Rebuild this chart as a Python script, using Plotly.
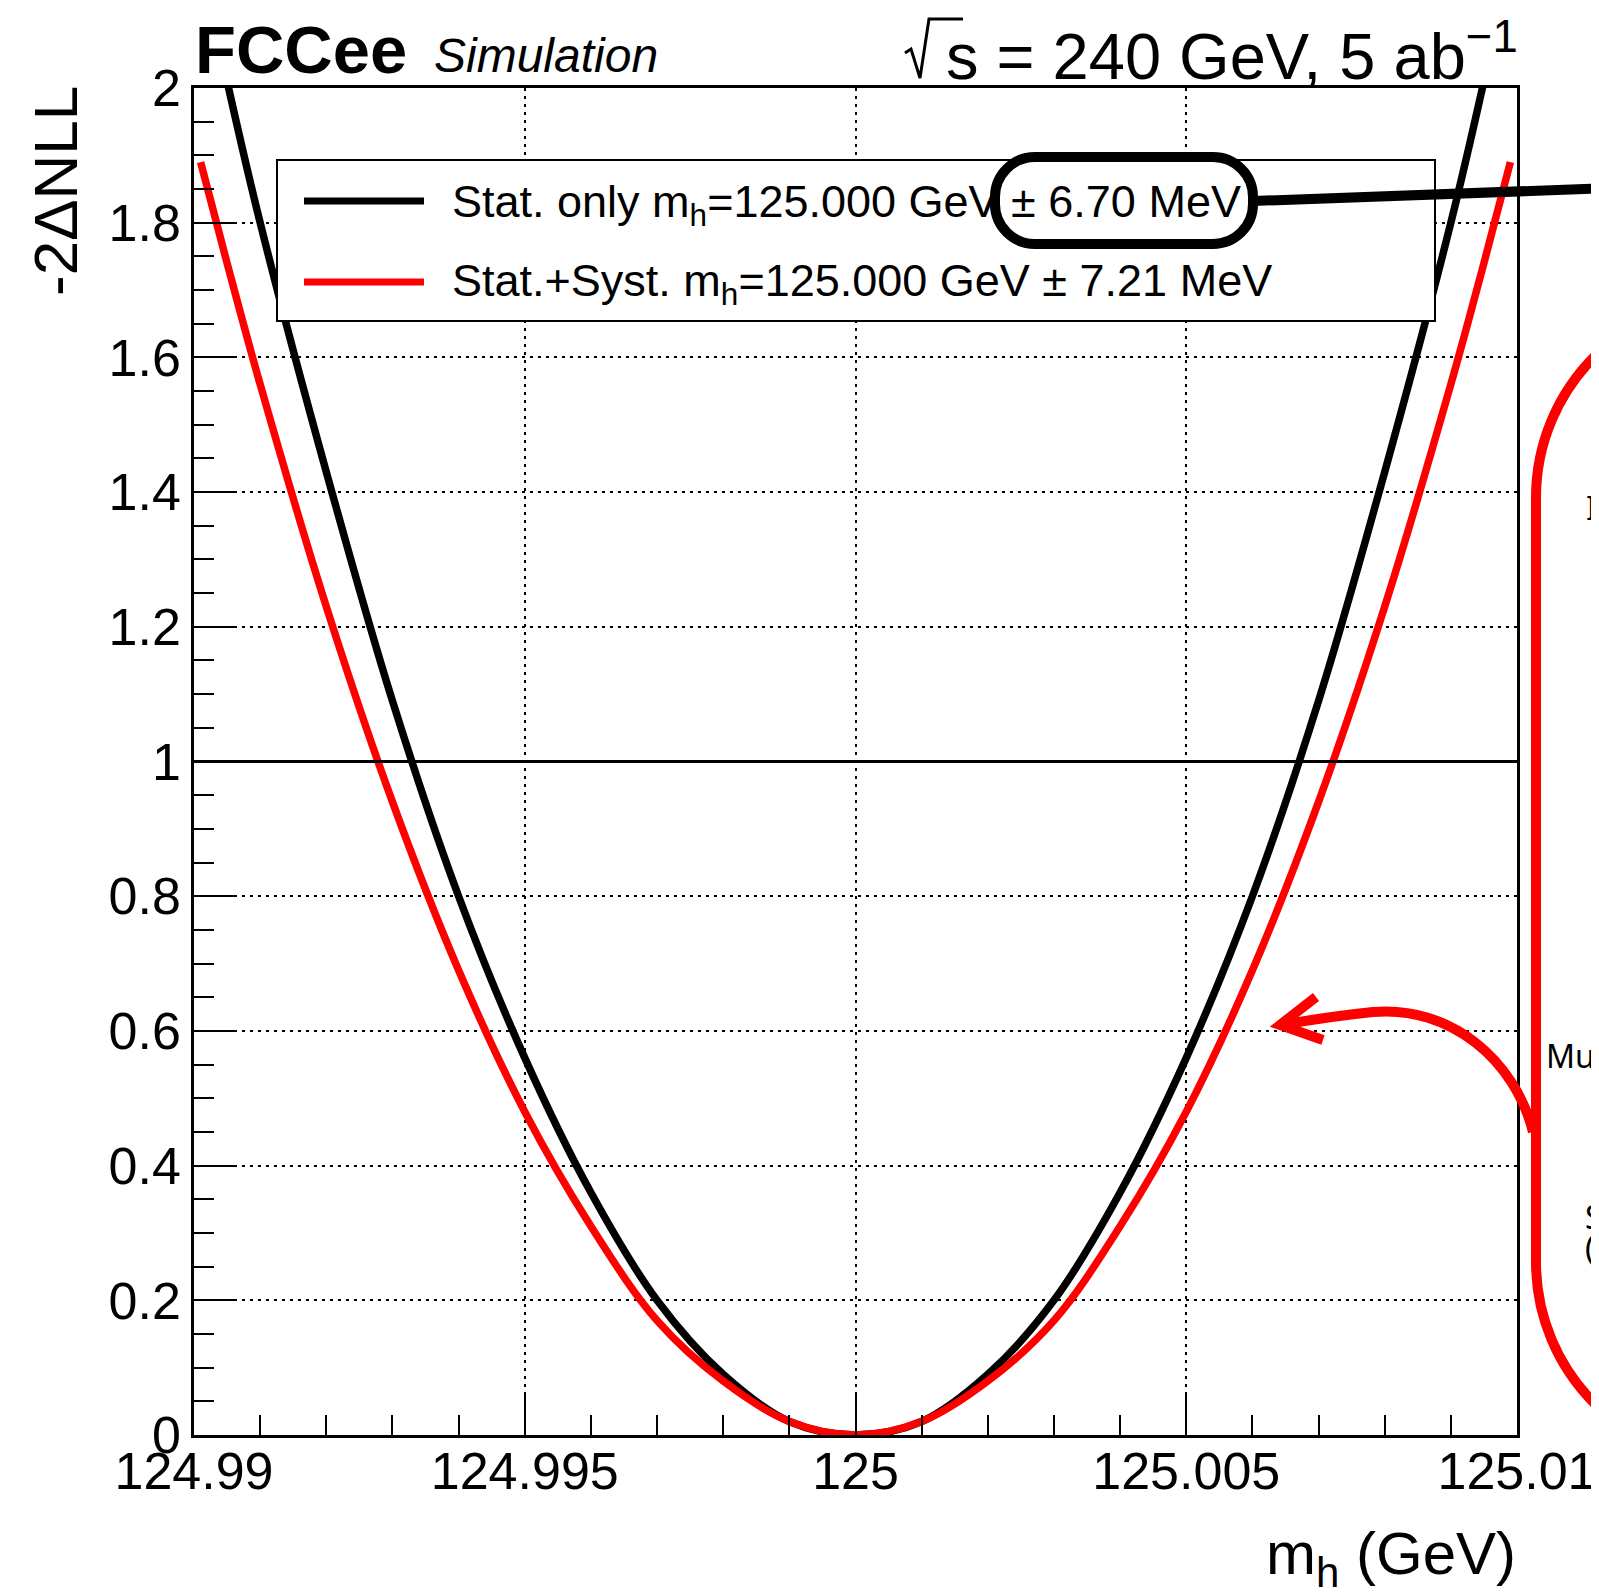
import plotly.graph_objects as go

# ---------------- data ----------------
stat_mh = [124.9905, 124.991, 124.992, 124.993, 124.994, 124.995, 124.996, 124.997, 124.998, 124.999,
           125.000,
           125.001, 125.002, 125.003, 125.004, 125.005, 125.006, 125.007, 125.008, 125.009, 125.0095]
stat_nll = [2.01, 1.80, 1.43, 1.09, 0.80, 0.56, 0.36, 0.20, 0.09, 0.02,
            0.00,
            0.02, 0.09, 0.20, 0.36, 0.56, 0.80, 1.09, 1.43, 1.80, 2.01]

syst_mh = [124.9901, 124.9905, 124.991, 124.992, 124.993, 124.994, 124.995, 124.996, 124.997, 124.998, 124.999,
           125.000,
           125.001, 125.002, 125.003, 125.004, 125.005, 125.006, 125.007, 125.008, 125.009, 125.0095, 125.0099]
syst_nll = [1.89, 1.74, 1.56, 1.23, 0.94, 0.69, 0.48, 0.31, 0.17, 0.08, 0.02,
            0.00,
            0.02, 0.08, 0.17, 0.31, 0.48, 0.69, 0.94, 1.23, 1.56, 1.74, 1.89]

ref_level = 1.0

x_range = [124.99, 125.01]
y_range = [0, 2]
x_tick_vals = [124.99, 124.995, 125.0, 125.005, 125.01]
x_tick_text = ["124.99", "124.995", "125", "125.005", "125.01"]
y_tick_vals = [0, 0.2, 0.4, 0.6, 0.8, 1.0, 1.2, 1.4, 1.6, 1.8, 2.0]
y_tick_text = ["0", "0.2", "0.4", "0.6", "0.8", "1", "1.2", "1.4", "1.6", "1.8", "2"]

legend_labels = ["Stat. only m<sub>h</sub>=125.000 GeV \u00b1 6.70 MeV",
                 "Stat.+Syst. m<sub>h</sub>=125.000 GeV \u00b1 7.21 MeV"]
series_colors = ["#000000", "#ff0000"]

# ---------------- layout geometry (page pixel coordinates) ----------------
PAGE_W, PAGE_H = 1599, 1596
OFF = 8                      # default body margin of the html page
PLOT_L, PLOT_R, PLOT_T, PLOT_B = 194, 1517, 88, 1435
W, H = PAGE_W - 2 * OFF, PAGE_H - 2 * OFF
PW = PLOT_R - PLOT_L
PH = PLOT_B - PLOT_T
FONT = "Liberation Sans, Arial, Helvetica, sans-serif"


def px(x):
    return (x - PLOT_L) / PW


def py(y):
    return (PLOT_B - y) / PH


def path(cmds):
    out = []
    for c in cmds:
        op = c[0]
        pts = " ".join(f"{px(a):.5f},{py(b):.5f}" for a, b in c[1:])
        out.append(op + " " + pts if pts else op)
    return " ".join(out)


K = 0.5523


def rounded_rect(x0, y0, x1, y1, r):
    k = K * r
    return path([
        ("M", (x0 + r, y0)), ("L", (x1 - r, y0)),
        ("C", (x1 - r + k, y0), (x1, y0 + r - k), (x1, y0 + r)),
        ("L", (x1, y1 - r)),
        ("C", (x1, y1 - r + k), (x1 - r + k, y1), (x1 - r, y1)),
        ("L", (x0 + r, y1)),
        ("C", (x0 + r - k, y1), (x0, y1 - r + k), (x0, y1 - r)),
        ("L", (x0, y0 + r)),
        ("C", (x0, y0 + r - k), (x0 + r - k, y0), (x0 + r, y0)),
        ("Z",),
    ])


fig = go.Figure()
fig.add_trace(go.Scatter(x=stat_mh, y=stat_nll, mode="lines",
                         line=dict(color=series_colors[0], width=7.5, shape="spline"),
                         showlegend=False, hoverinfo="skip"))
fig.add_trace(go.Scatter(x=syst_mh, y=syst_nll, mode="lines",
                         line=dict(color=series_colors[1], width=7.5, shape="spline"),
                         showlegend=False, hoverinfo="skip"))

axis_common = dict(
    ticks="inside", ticklen=40, tickwidth=2, tickcolor="black",
    showline=True, linecolor="black", linewidth=2.5, mirror=True,
    showgrid=True, gridcolor="black", gridwidth=1.5, griddash="3px,5px",
    zeroline=False, tickfont=dict(family=FONT, size=52, color="black"),
    ticklabeloverflow="allow", automargin=False,
)
fig.update_xaxes(range=x_range, tickmode="array", tickvals=x_tick_vals, ticktext=x_tick_text,
                 ticklabelstandoff=-11,
                 minor=dict(tick0=124.99, dtick=0.001, ticks="inside", ticklen=20, tickwidth=2,
                            tickcolor="black", showgrid=False),
                 **axis_common)
fig.update_yaxes(range=y_range, tickmode="array", tickvals=y_tick_vals, ticktext=y_tick_text,
                 minor=dict(tick0=0, dtick=0.05, ticks="inside", ticklen=20, tickwidth=2,
                            tickcolor="black", showgrid=False),
                 **axis_common)

shapes = []
# reference line at -2dNLL = 1
shapes.append(dict(type="line", xref="paper", yref="y", x0=0, x1=1, y0=ref_level, y1=ref_level,
                   line=dict(color="black", width=3), layer="above"))
# legend box
shapes.append(dict(type="rect", xref="paper", yref="paper", x0=px(277), x1=px(1435), y0=py(160), y1=py(321),
                   line=dict(color="black", width=2), fillcolor="white", layer="above"))
for i, yy in enumerate([201, 282]):
    shapes.append(dict(type="line", xref="paper", yref="paper", x0=px(304), x1=px(424), y0=py(yy), y1=py(yy),
                       line=dict(color=series_colors[i], width=7), layer="above"))
# black highlight box and leader line
shapes.append(dict(type="path", xref="paper", yref="paper", path=rounded_rect(995, 157, 1253, 244, 40),
                   line=dict(color="black", width=10), layer="above"))
shapes.append(dict(type="path", xref="paper", yref="paper",
                   path=path([("M", (1253, 201)), ("L", (1640, 187))]),
                   line=dict(color="black", width=10), layer="above"))
# radical sign of sqrt(s)
shapes.append(dict(type="path", xref="paper", yref="paper",
                   path=path([("M", (905, 53)), ("L", (911, 49)), ("L", (920, 78)),
                              ("L", (929, 19)), ("L", (963, 19))]),
                   line=dict(color="black", width=3), layer="above"))
# red callout box (cropped at the right edge)
rr = 200
kr = K * rr
shapes.append(dict(type="path", xref="paper", yref="paper",
                   path=path([("M", (1820, 298)), ("L", (1536 + rr, 298)),
                              ("C", (1536 + rr - kr, 298), (1536, 298 + rr - kr), (1536, 298 + rr)),
                              ("L", (1536, 1462 - rr)),
                              ("C", (1536, 1462 - rr + kr), (1536 + rr - kr, 1462), (1536 + rr, 1462)),
                              ("L", (1820, 1462))]),
                   line=dict(color="#ff0000", width=10), layer="above"))
# red curved arrow
shapes.append(dict(type="path", xref="paper", yref="paper",
                   path=path([("M", (1533, 1132)), ("C", (1515, 1060), (1450, 1005), (1373, 1012)),
                              ("Q", (1333, 1016), (1281, 1025))]),
                   line=dict(color="#ff0000", width=10), layer="above"))
shapes.append(dict(type="path", xref="paper", yref="paper",
                   path=path([("M", (1316, 997)), ("L", (1280, 1025)), ("L", (1323, 1040))]),
                   line=dict(color="#ff0000", width=10), layer="above"))

annotations = []


def txt(text, x, y, size, xanchor="left", yanchor="middle", family=FONT, angle=0):
    annotations.append(dict(text=text, x=px(x), y=py(y), xref="paper", yref="paper",
                            xanchor=xanchor, yanchor=yanchor, showarrow=False, textangle=angle,
                            font=dict(family=family, size=size, color="black"), borderpad=0))


txt("<b>FCCee</b>", 194, 50, 67)
txt("<i>Simulation</i>", 433, 56, 48)
txt("s = 240 GeV, 5 ab<sup>\u22121</sup>", 1519, 52, 65, xanchor="right")
txt(legend_labels[0], 451, 204, 45)
txt(legend_labels[1], 451, 283, 45)
txt("-2\u0394NLL", 55, 85, 62, xanchor="center", yanchor="top", angle=-90)
txt("m<sub>h</sub> (GeV)", 1517, 1558, 60, xanchor="right")
side_font = "Noto Sans, sans-serif"
txt("Much", 1545, 1055, 32, family=side_font)
txt("I", 1585, 507, 32, family=side_font)
txt("S", 1584, 1216, 32, family=side_font)
txt("(", 1584, 1247, 32, family=side_font)

fig.update_layout(
    width=W, height=H,
    margin=dict(l=PLOT_L - OFF, r=(W + OFF) - PLOT_R, t=PLOT_T - OFF, b=(H + OFF) - PLOT_B, pad=0,
                autoexpand=False),
    paper_bgcolor="white", plot_bgcolor="white",
    shapes=shapes, annotations=annotations,
    showlegend=False,
    font=dict(family=FONT, color="black"),
)

fig.write_html("out.html")
